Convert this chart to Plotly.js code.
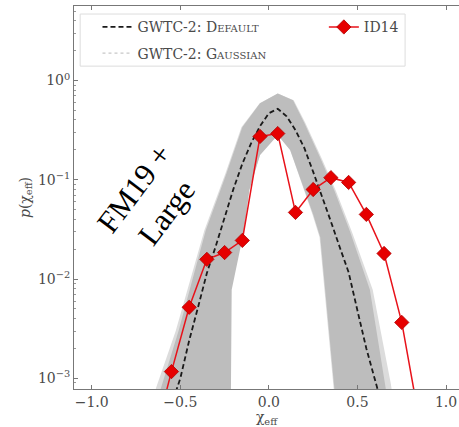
<!DOCTYPE html>
<html>
<head>
<meta charset="utf-8">
<script src="https://cdn.plot.ly/plotly-3.0.1.min.js"></script>
<style>
  html, body { margin: 0; padding: 0; background: #fff; }
  #chart { width: 459px; height: 427px; }
</style>
</head>
<body>
<div id="chart"></div>
<script>
// Effective spin distribution p(chi_eff), log scale.

// GWTC-2 default model: median curve
const defaultX = [-0.60, -0.55, -0.50, -0.45, -0.40, -0.35, -0.30, -0.25, -0.20, -0.15, -0.10, -0.05,
                  0.00, 0.05, 0.10, 0.15, 0.20, 0.25, 0.30, 0.35, 0.40, 0.45, 0.50, 0.55, 0.60, 0.65];
const defaultMedian = [2.5e-4, 5.4e-4, 1.0e-3, 2.4e-3, 5.2e-3, 0.0115, 0.0214, 0.041, 0.081, 0.145, 0.234, 0.347,
                       0.468, 0.519, 0.436, 0.316, 0.209, 0.120, 0.069, 0.038, 0.0209, 0.0117, 4.8e-3, 2.0e-3, 9.5e-4, 4.5e-4];

// GWTC-2 default model: 90% band (outer and inner edges)
const defaultOuterX = [-0.64, -0.61, -0.51, -0.356, -0.24, -0.15, -0.05, 0.05, 0.136, 0.20, 0.29, 0.37, 0.46, 0.57, 0.655, 0.68];
const defaultOuterY = [4.5e-4, 7.9e-4, 3.0e-3, 0.031, 0.115, 0.339, 0.589, 0.741, 0.631, 0.372, 0.166, 0.0776, 0.0295, 0.0078, 8.9e-4, 4.5e-4];
const defaultInnerX = [-0.215, -0.21, -0.14, -0.11, -0.05, 0.05, 0.12, 0.18, 0.25, 0.29, 0.32, 0.37, 0.38];
const defaultInnerY = [5.0e-4, 7.8e-3, 0.031, 0.079, 0.178, 0.282, 0.20, 0.10, 0.0447, 0.0263, 0.0078, 7.8e-4, 5.0e-4];

// GWTC-2 Gaussian model: median curve and 90% band
const gaussX = defaultX;
const gaussMedian = [2.6e-4, 5.5e-4, 1.05e-3, 2.4e-3, 5.2e-3, 0.0113, 0.0212, 0.040, 0.080, 0.143, 0.232, 0.345,
                     0.465, 0.515, 0.435, 0.315, 0.209, 0.121, 0.070, 0.039, 0.0212, 0.0118, 4.9e-3, 2.1e-3, 9.8e-4, 4.6e-4];
const gaussOuterX = [-0.67, -0.638, -0.526, -0.364, -0.246, -0.155, -0.052, 0.05, 0.14, 0.206, 0.297, 0.378, 0.47, 0.586, 0.688, 0.712];
const gaussOuterY = [4.5e-4, 7.9e-4, 3.0e-3, 0.031, 0.115, 0.339, 0.589, 0.741, 0.631, 0.372, 0.166, 0.0776, 0.0295, 0.0078, 8.9e-4, 4.5e-4];
const gaussInnerX = [-0.22, -0.215, -0.145, -0.113, -0.05, 0.05, 0.12, 0.177, 0.246, 0.286, 0.316, 0.366, 0.376];
const gaussInnerY = [5.0e-4, 7.8e-3, 0.031, 0.079, 0.178, 0.282, 0.20, 0.10, 0.0447, 0.0263, 0.0078, 7.8e-4, 5.0e-4];

// ID14 population-synthesis model (FM19 + Large)
const id14X = [-0.65, -0.55, -0.45, -0.35, -0.25, -0.15, -0.05, 0.05, 0.15, 0.25, 0.35, 0.45, 0.55, 0.65, 0.75, 0.85];
const id14Y = [2.4e-4, 0.00117, 0.0052, 0.0158, 0.0185, 0.0245, 0.273, 0.292, 0.0469, 0.0798, 0.105, 0.094, 0.0448, 0.0181, 0.00366, 3.7e-4];

// Axis ticks
const xTicks = [-1.0, -0.5, 0.0, 0.5, 1.0];
const xTickText = ['\u22121.0', '\u22120.5', '0.0', '0.5', '1.0'];
const yTicks = [1, 0.1, 0.01, 0.001];
const yTickText = ['10<sup>0</sup>', '10<sup>\u22121</sup>', '10<sup>\u22122</sup>', '10<sup>\u22123</sup>'];

const serif = 'DejaVu Serif, Liberation Serif, serif';
const textGrey = '#4a4a4a';

// closed polygon: outer edge left-to-right, inner edge right-to-left
function bandPolygon(ox, oy, ix, iy) {
  return {
    x: ox.concat(ix.slice().reverse()),
    y: oy.concat(iy.slice().reverse())
  };
}

const gaussBand = bandPolygon(gaussOuterX, gaussOuterY, gaussInnerX, gaussInnerY);
const defaultBand = bandPolygon(defaultOuterX, defaultOuterY, defaultInnerX, defaultInnerY);

// minor ticks at 2..9 of each decade
const yMinor = [];
for (let e = -4; e <= 0; e++) {
  for (let k = 2; k <= 9; k++) yMinor.push(k * Math.pow(10, e));
}

const traces = [
  {
    x: gaussX, y: gaussMedian, mode: 'lines', name: 'GWTC-2: Gaussian',
    line: { color: '#c8c8c8', width: 1.2, dash: 'dot' },
    legend: 'legend', legendgroup: 'g2', legendrank: 2, hoverinfo: 'skip'
  },
  {
    x: gaussBand.x, y: gaussBand.y, mode: 'lines', fill: 'toself',
    fillcolor: '#dcdcdc', line: { width: 0 }, showlegend: false, hoverinfo: 'skip'
  },
  {
    x: defaultBand.x, y: defaultBand.y, mode: 'lines', fill: 'toself',
    fillcolor: '#bdbdbd', line: { width: 0 }, showlegend: false, hoverinfo: 'skip'
  },
  {
    x: defaultX, y: defaultMedian, mode: 'lines', name: 'GWTC-2: Default',
    line: { color: '#1a1a1a', width: 1.8, dash: '5px,3px' },
    legend: 'legend', legendgroup: 'g1', legendrank: 1
  },
  {
    x: id14X, y: id14Y, mode: 'lines+markers', name: 'ID14',
    line: { color: '#e8121a', width: 1.5 },
    marker: { symbol: 'diamond', size: 11, color: '#e60000', line: { color: '#b00000', width: 0.8 } },
    legend: 'legend2'
  }
];

const legendFont = { family: serif, size: 14, color: textGrey, variant: 'small-caps' };

const layout = {
  width: 459, height: 427,
  margin: { l: 74, r: 0, t: 6, b: 38 },
  paper_bgcolor: '#fff', plot_bgcolor: '#fff',
  showlegend: true,
  xaxis: {
    range: [-1.10, 1.073],
    tickmode: 'array', tickvals: xTicks, ticktext: xTickText,
    ticks: 'inside', ticklen: 4, tickcolor: '#777', tickwidth: 1,
    showline: true, linecolor: '#777', linewidth: 1, mirror: 'ticks',
    showgrid: false, zeroline: false,
    tickfont: { family: serif, size: 14, color: textGrey },
    title: { text: '\u03c7<sub>eff</sub>', font: { family: serif, size: 14, color: textGrey }, standoff: 0 }
  },
  yaxis: {
    type: 'log', range: [-3.107, 0.75],
    tickmode: 'array', tickvals: yTicks, ticktext: yTickText,
    ticks: 'inside', ticklen: 4, tickcolor: '#777', tickwidth: 1,
    minor: { tickmode: 'array', tickvals: yMinor, ticks: 'inside', ticklen: 2, tickcolor: '#999', showgrid: false },
    showline: true, linecolor: '#777', linewidth: 1, mirror: false,
    showgrid: false, zeroline: false,
    tickfont: { family: serif, size: 14, color: textGrey },
    title: { text: '<i>p</i>(\u03c7<sub>eff</sub>)', font: { family: serif, size: 14, color: textGrey }, standoff: 4 }
  },
  legend: {
    x: 0.061, y: 0.986, xanchor: 'left', yanchor: 'top',
    bgcolor: 'rgba(0,0,0,0)', borderwidth: 0,
    traceorder: 'grouped', tracegroupgap: 5,
    font: legendFont
  },
  legend2: {
    x: 0.649, y: 0.986, xanchor: 'left', yanchor: 'top',
    bgcolor: 'rgba(0,0,0,0)', borderwidth: 0,
    font: legendFont
  },
  shapes: [
    {
      type: 'rect', xref: 'paper', yref: 'paper',
      x0: 0.016, x1: 0.86, y0: 0.843, y1: 0.979,
      line: { color: '#dddddd', width: 1 }, fillcolor: 'rgba(255,255,255,0.85)', layer: 'above'
    }
  ],
  annotations: [
    {
      x: -0.67, y: -1.21, xref: 'x', yref: 'y',
      text: 'FM19 +<br>Large', showarrow: false, textangle: -53,
      font: { family: 'Liberation Serif, serif', size: 31, color: '#000' },
      align: 'center'
    }
  ]
};

Plotly.newPlot('chart', traces, layout, { staticPlot: true, displayModeBar: false });
</script>
</body>
</html>
